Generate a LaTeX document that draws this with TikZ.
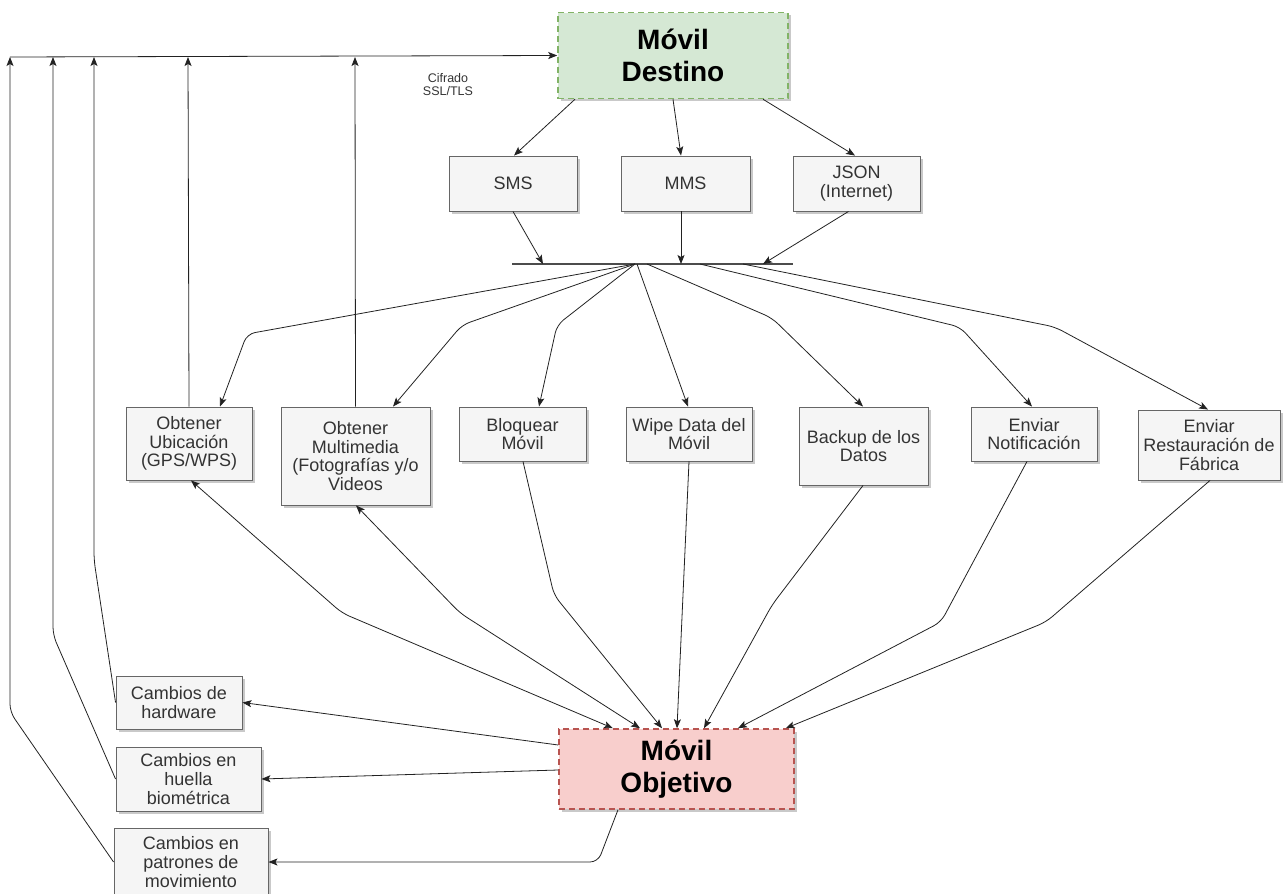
\documentclass[tikz,border=0pt]{standalone}
\usepackage{fontspec}
\setmainfont{Liberation Sans}
\usetikzlibrary{arrows.meta,shadows}

\definecolor{boxfill}{HTML}{F5F5F5}
\definecolor{boxline}{HTML}{666666}
\definecolor{boxtext}{HTML}{333333}
\definecolor{greenfill}{HTML}{D5E8D4}
\definecolor{greenline}{HTML}{82B366}
\definecolor{redfill}{HTML}{F8CECC}
\definecolor{redline}{HTML}{B85450}
\definecolor{wire}{HTML}{222222}

\tikzset{
  wh/.style 2 args={minimum width=#1pt, minimum height=#2pt},
  shade3/.style={drop shadow={shadow xshift=2.5pt, shadow yshift=-2.5pt, opacity=0.3, fill=black!70}},
  box/.style={draw=boxline, fill=boxfill, line width=0.9pt, text=boxtext,
    align=center, inner sep=0pt, font=\fontsize{18}{18.6}\selectfont, shade3},
  device/.style={line width=1.5pt, dash pattern=on 6pt off 4pt, align=center,
    inner sep=0pt, font=\fontsize{28}{32}\selectfont\bfseries, text=black, shade3},
  tip/.style={Stealth[length=9pt,width=7pt,inset=2pt]},
  conn/.style={draw=wire, line width=0.8pt, -{Stealth[length=9pt,width=7pt,inset=2pt]}, rounded corners=8pt},
  both/.style={draw=wire, line width=0.8pt, {Stealth[length=9pt,width=7pt,inset=2pt]}-{Stealth[length=9pt,width=7pt,inset=2pt]}, rounded corners=8pt},
  plain/.style={draw=wire, line width=0.8pt, rounded corners=8pt},
  busline/.style={draw=black!70, line width=1.3pt},
  note/.style={font=\fontsize{12.5}{13}\selectfont, text=boxtext, align=center, inner sep=0pt}
}

\begin{document}
\begin{tikzpicture}[x=1pt,y=-1pt]
\useasboundingbox (0,0) rectangle (1283,894);

% destination and target devices
\node[device, draw=greenline, fill=greenfill, wh={230}{86}] (dest) at (673,55.5) {Móvil\\Destino};
\node[device, draw=redline, fill=redfill, wh={235}{80}] (obj) at (676.5,769) {Móvil\\Objetivo};

% channels
\node[box, wh={128}{55}] (sms)  at (513,183.5)   {SMS};
\node[box, wh={129}{55}] (mms)  at (685.5,183.5) {MMS};
\node[box, wh={127}{55}] (json) at (856.5,183.5) {JSON\\(Internet)};

% commands
\node[box, wh={126}{73}] (ubic)   at (189,443.5)  {Obtener\\Ubicación\\(GPS/WPS)};
\node[box, wh={149}{98}] (multi)  at (355.5,456)  {Obtener\\Multimedia\\(Fotografías y/o\\Videos};
\node[box, wh={127}{54}] (bloq)   at (522.5,434)  {Bloquear\\Móvil};
\node[box, wh={126}{54}] (wipe)   at (689,434)    {Wipe Data del\\Móvil};
\node[box, wh={129}{78}] (backup) at (863.5,446)  {Backup de los\\Datos};
\node[box, wh={126}{54}] (notif)  at (1034,434)   {Enviar\\Notificación};
\node[box, wh={142}{70}] (rest)   at (1209,445)   {Enviar\\Restauración de\\Fábrica};

% change detectors
\node[box, wh={126}{53}] (hw)     at (179,702.5) {Cambios de\\hardware};
\node[box, wh={145}{64}] (huella) at (188.5,779)  {Cambios en\\huella\\biométrica};
\node[box, wh={154}{68}] (patr)   at (191,862)    {Cambios en\\patrones de\\movimiento};

\node[note] (ssl) at (448,85) {Cifrado\\SSL/TLS};

% shared bus
\coordinate (barL) at (512,264);
\coordinate (barR) at (793,264);
\draw[busline] (barL) -- (barR);
\coordinate (inS) at (543,264);
\coordinate (inM) at (681,264);
\coordinate (inJ) at (763,264);
\coordinate (fan) at (635,264);
\coordinate (fanW) at (637,264);
\coordinate (fanB) at (647,264);
\coordinate (fanN) at (700,264);
\coordinate (fanR) at (743,264);

% return channel
\coordinate (t1) at (188,57);
\coordinate (t2) at (355,57);
\coordinate (t3) at (94,57);
\coordinate (t4) at (53,57);
\coordinate (t5) at (10,57);

% destination to channels
\draw[conn] ([xshift=-98pt]dest.south) -- ([xshift=1pt]sms.north);
\draw[conn] ([xshift=0pt]dest.south) -- ([xshift=-4.5pt]mms.north);
\draw[conn] ([xshift=90pt]dest.south) -- ([xshift=-1.5pt]json.north);

% channels to bus
\draw[conn] (sms.south) -- (inS);
\draw[conn] ([xshift=-4.5pt]mms.south) -- (inM);
\draw[conn] ([xshift=-8pt]json.south) -- (inJ);

% bus to commands
\draw[conn] (fan) -- (247,334) -- ([xshift=31pt]ubic.north);
\draw[conn] (fan) -- (462,325) -- ([xshift=37.5pt]multi.north);
\draw[conn] (fan) -- (557,325) -- ([xshift=16.5pt]bloq.north);
\draw[conn] (fanW) -- ([xshift=-1pt]wipe.north);
\draw[conn] (fanB) -- (772,318) -- ([xshift=-0.5pt]backup.north);
\draw[conn] (fanN) -- (960,327) -- ([xshift=-2pt]notif.north);
\draw[conn] (fanR) -- (1055,327) -- ([xshift=-1pt]rest.north);

% commands to target
\draw[both] ([xshift=2pt]ubic.south) -- (342,613) -- ([xshift=-63.5pt]obj.north);
\draw[both] ([xshift=0.5pt]multi.south) -- (460,613) -- ([xshift=-36.5pt]obj.north);
\draw[conn] ([xshift=0.5pt]bloq.south) -- (554,595) -- ([xshift=-14.5pt]obj.north);
\draw[conn] (wipe.south) -- ([xshift=0.5pt]obj.north);
\draw[conn] ([xshift=-0.5pt]backup.south) -- (772,605) -- ([xshift=27.5pt]obj.north);
\draw[conn] ([xshift=-7pt]notif.south) -- (941,622) -- ([xshift=61.5pt]obj.north);
\draw[conn] ([xshift=1pt]rest.south) -- (1046,622) -- ([xshift=-9pt]obj.north east);

% target to change detectors
\draw[conn] ([yshift=24pt]obj.west) -- (hw.east);
\draw[conn] ([yshift=-1pt]obj.west) -- (huella.east);
\draw[conn] ([xshift=-58.5pt]obj.south) -- (598,862) -- (patr.east);

% upward return paths
\draw[conn] (ubic.north) -- (t1);
\draw[conn] (multi.north) -- (t2);
\draw[conn] (hw.west) -- (94,560) -- (t3);
\draw[conn] (huella.west) -- (53,635) -- (t4);
\draw[conn] (patr.west) -- (10,712) -- (t5);
\draw[conn] (t5) -- (dest.west);
\end{tikzpicture}
\end{document}
